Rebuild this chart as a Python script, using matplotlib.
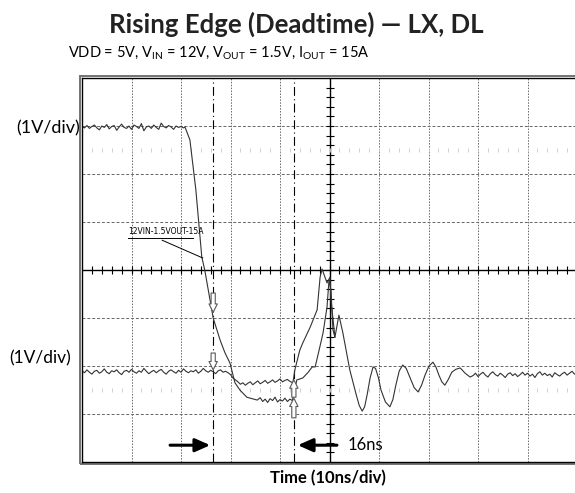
import numpy as np
import matplotlib
matplotlib.use("Agg")
import matplotlib.pyplot as plt
from matplotlib.patches import Rectangle

plt.rcParams['font.family'] = ['Lato', 'DejaVu Sans']
plt.rcParams['mathtext.fontset'] = 'custom'
plt.rcParams['mathtext.rm'] = 'Lato'
plt.rcParams['mathtext.it'] = 'Lato:italic'
plt.rcParams['mathtext.bf'] = 'Lato:bold'

# time in ns (10 ns/div), level in V (1 V/div)
# trace A: flat high, falls after first cursor
a_flat = [2.99, 2.96, 3.01, 2.95, 2.99, 3.02, 2.96, 2.92, 3.00, 2.97,
          3.03, 2.94, 2.99, 3.01, 2.91, 2.98, 3.04, 2.97, 2.95, 3.00,
          2.93, 3.02, 2.99, 2.95, 3.05, 2.90, 2.98, 3.00, 2.95, 3.02,
          2.97, 2.93, 3.06, 2.99, 2.96, 3.01, 2.98, 2.93, 3.00, 2.97,
          2.99, 2.96]
a_fall_t = [20.8, 21.8, 23.0, 24.2, 24.8, 26.5, 27.9, 28.9, 29.9, 30.9, 31.9, 33.3, 35.4]
a_fall_v = [2.98, 2.71, 1.67, 0.27, 0.00, -1.00, -1.46, -1.73, -1.94, -2.35, -2.50, -2.65, -2.71]
a_low = [-2.66, -2.74, -2.69, -2.76, -2.68, -2.72, -2.65, -2.75, -2.70, -2.73,
         -2.67, -2.74, -2.69, -2.72]
a_rise_t = [43.4, 44.6, 45.7, 46.5, 47.1, 47.9, 48.7, 49.5, 49.9, 50.3, 50.7, 51.1]
a_rise_v = [-2.29, -2.25, -2.13, -2.02, -2.02, -1.67, -1.31, -0.77, -0.21, -0.42, -1.25, -1.40]

# trace B: flat low, dips, peaks, then rings
b_flat = [-2.10, -2.14, -2.08, -2.13, -2.17, -2.11, -2.09, -2.15, -2.12, -2.06,
          -2.13, -2.16, -2.10, -2.12, -2.08, -2.14, -2.18, -2.11, -2.09, -2.13,
          -2.07, -2.12, -2.15, -2.10, -2.13, -2.05, -2.11, -2.16, -2.12, -2.09,
          -2.14, -2.10, -2.07, -2.13, -2.17, -2.11, -2.08, -2.12, -2.15, -2.09,
          -2.13, -2.06, -2.11, -2.14, -2.10, -2.12, -2.08, -2.15, -2.11, -2.05,
          -2.10, -2.13, -2.09, -2.12, -2.16, -2.10, -2.08, -2.13, -2.11, -2.14, -2.18]
b_low = [-2.33, -2.38, -2.35, -2.40, -2.36, -2.33, -2.39, -2.35, -2.31, -2.37,
         -2.34, -2.30, -2.36, -2.33, -2.29, -2.34, -2.31, -2.27, -2.33, -2.30,
         -2.28, -2.32]
b_ring_t = [42.6, 43.0, 44.0, 44.6, 46.1, 47.5, 48.1, 48.5, 49.1, 49.5, 50.1, 50.3,
            51.1, 51.9, 52.7, 53.4, 54.1, 55.4, 56.0, 56.6, 57.1, 57.6, 58.2, 58.8,
            59.3, 59.9, 60.4, 61.3, 62.2, 62.8, 63.4, 64.1, 64.8, 65.5, 66.3, 67.1,
            67.9, 68.6, 69.3, 70.1, 70.9, 71.5, 72.1, 72.7, 73.3, 74.0, 74.7, 75.5,
            76.4, 77.4, 78.4]
b_ring_v = [-2.35, -2.08, -1.67, -1.52, -1.19, -0.83, -0.15, 0.02, -0.15, -0.27, -0.15, -0.63,
            -1.40, -0.94, -1.31, -1.70, -2.08, -2.60, -2.82, -2.94, -2.85, -2.60, -2.25, -2.02,
            -2.05, -2.25, -2.50, -2.75, -2.85, -2.70, -2.40, -2.10, -1.98, -2.05, -2.25, -2.45,
            -2.54, -2.40, -2.19, -2.00, -1.92, -2.02, -2.19, -2.33, -2.40, -2.28, -2.13, -2.07,
            -2.04, -2.15, -2.23]
b_tail = [-2.20, -2.15, -2.22, -2.17, -2.13, -2.19, -2.23, -2.16, -2.12, -2.18,
          -2.21, -2.15, -2.19, -2.24, -2.17, -2.14, -2.20, -2.16, -2.22, -2.18,
          -2.13, -2.19, -2.15, -2.21, -2.17, -2.24, -2.16, -2.12, -2.19, -2.15,
          -2.20, -2.17, -2.23, -2.14, -2.18, -2.21, -2.16, -2.13, -2.19, -2.15,
          -2.11, -2.17, -2.14]

cursors = [26.5, 42.8]
# cursor markers: (time, tail level, tip level)
marks = [(26.5, -0.48, -0.88), (26.5, -1.73, -2.08), (42.8, -2.65, -2.29), (42.8, -3.08, -2.67)]

t_a = np.concatenate([np.arange(len(a_flat)) * 0.5, a_fall_t,
                      36 + np.arange(len(a_low)) * 0.5, a_rise_t])
v_a = np.concatenate([a_flat, a_fall_v, a_low, a_rise_v])
t_b = np.concatenate([np.arange(len(b_flat)) * 0.5, [30.5],
                      31.5 + np.arange(len(b_low)) * 0.5, b_ring_t,
                      79 + np.arange(len(b_tail)) * 0.5])
v_b = np.concatenate([b_flat, [-2.25], b_low, b_ring_v, b_tail])

fig = plt.figure(figsize=(5.75, 4.93), dpi=100)
ax = fig.add_axes([82/575, 31/493, 495/575, 384/493])
ax.set_xlim(0, 100)
ax.set_ylim(-4, 4)
ax.set_xticks([])
ax.set_yticks([])
for s in ax.spines.values():
    s.set_linewidth(1.0)
ax.add_patch(Rectangle((-0.004, -0.006), 1.008, 1.012, transform=ax.transAxes,
                       fill=False, ec='0.45', lw=1.4, clip_on=False))

# graticule
for y in [-3, -2, -1, 1, 2, 3]:
    ax.axhline(y, color='0.4', lw=0.7, ls=(0, (3, 2)))
for x in [10, 20, 30, 40, 60, 70, 80, 90]:
    ax.axvline(x, color='0.4', lw=0.7, ls=(0, (1.5, 1.5)))
ax.axhline(0, color='k', lw=1.0)
ax.axvline(50, color='k', lw=1.0)
ax.plot(np.arange(2, 100, 2), np.zeros(49), ls='none', marker='|', ms=6, mew=0.8, color='k')
ax.plot(np.full(39, 50), np.arange(-3.8, 4, 0.2), ls='none', marker='_', ms=6, mew=0.8, color='k')
for y in [2.5, -2.5]:
    ax.plot(np.arange(2, 100, 2), np.full(49, y), ls='none', marker='|', ms=3, mew=0.6, color='0.78')

for c in cursors:
    ax.axvline(c, color='k', lw=0.8, ls=(0, (8, 3, 1, 3)))

ax.plot(t_a, v_a, color='0.2', lw=0.8)
ax.plot(t_b, v_b, color='0.2', lw=0.8)

for t, v0, v1 in marks:
    ax.annotate('', xy=(t, v1), xytext=(t, v0),
                arrowprops=dict(arrowstyle='simple,head_length=0.6,head_width=0.6,tail_width=0.3',
                                fc='white', ec='0.35', lw=0.8, shrinkA=0, shrinkB=0))

# trace label
ax.text(9.4, 0.70, '12VIN-1.5VOUT-15A', fontsize=5.5, ha='left', va='bottom',
        family=['Liberation Sans Narrow', 'DejaVu Sans'])
ax.plot([9.3, 22.4], [0.66, 0.66], color='k', lw=0.7)
ax.plot([16.2, 24.4], [0.62, 0.25], color='k', lw=0.7)

# deadtime arrows
ax.annotate('', xy=(25.9, -3.65), xytext=(17.8, -3.65),
            arrowprops=dict(arrowstyle='-|>,head_length=0.9,head_width=0.4', color='k', lw=2.2,
                            shrinkA=0, shrinkB=0))
ax.annotate('', xy=(43.6, -3.65), xytext=(51.5, -3.65),
            arrowprops=dict(arrowstyle='-|>,head_length=0.9,head_width=0.4', color='k', lw=2.2,
                            shrinkA=0, shrinkB=0))
ax.text(53.6, -3.65, '16ns', fontsize=12, ha='left', va='center')

fig.text(296/575, 1 - 24/493, 'Rising Edge (Deadtime) \u2014 LX, DL', fontsize=18.5,
         fontweight='bold', ha='center', va='center', color='#222222')
fig.text(68/575, 1 - 53/493,
         r'VDD = 5V, V$_{\mathrm{IN}}$ = 12V, V$_{\mathrm{OUT}}$ = 1.5V, I$_{\mathrm{OUT}}$ = 15A',
         fontsize=10.5, ha='left', va='center')
fig.text(80/575, 1 - 128/493, '(1V/div)', fontsize=13, ha='right', va='center')
fig.text(40/575, 1 - 358/493, '(1V/div)', fontsize=12.5, ha='center', va='center')
fig.text(328/575, 1 - 478/493, 'Time (10ns/div)', fontsize=12, fontweight='bold',
         ha='center', va='center')

fig.savefig('out.png', dpi=100)
